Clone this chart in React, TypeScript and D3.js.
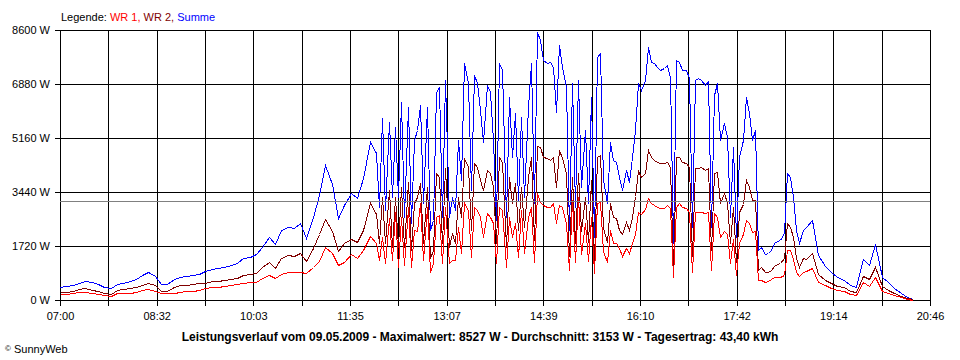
import React from 'react';
import * as d3 from 'd3';

// minutes after 07:00
const times = [
  0, 6, 12, 18, 24, 30, 36, 42, 48, 54,
  60, 66, 72, 78, 84, 90, 96, 102, 108, 114,
  120, 126, 132, 138, 144, 150, 156, 162, 168, 174,
  180, 186, 192, 198, 204, 210, 216, 222, 228, 234,
  240, 246, 252, 258, 264, 270, 276, 282, 288, 294,
  300, 303, 306, 309, 312, 315, 318, 321, 324, 327,
  330, 333, 336, 339, 342, 345, 348, 351, 354, 357,
  360, 363, 366, 369, 372, 375, 378, 381, 384, 387,
  390, 393, 396, 399, 402, 405, 408, 411, 414, 417,
  420, 423, 426, 429, 432, 435, 438, 441, 444, 447,
  450, 453, 456, 459, 462, 465, 468, 471, 474, 477,
  480, 483, 486, 489, 492, 495, 498, 501, 504, 507,
  510, 513, 516, 519, 522, 525, 528, 531, 534, 537,
  540, 543, 546, 549, 552, 555, 558, 561, 564, 567,
  570, 573, 576, 579, 582, 585, 588, 591, 594, 597,
  600, 603, 606, 609, 612, 615, 618, 621, 624, 627,
  630, 633, 636, 639, 642, 645, 648, 651, 654, 657,
  660, 663, 666, 669, 672, 675, 678, 681, 684, 687,
  690, 693, 696, 699, 702, 705, 708, 714, 720, 726,
  732, 738, 744, 750, 756, 762, 768, 774, 780, 786,
  792, 798, 804, 810,
];

const summe = [
  425, 435, 467, 531, 616, 573, 510, 425, 372, 499,
  552, 595, 658, 796, 902, 764, 500, 520, 658, 722,
  764, 796, 828, 934, 977, 1009, 1040, 1115, 1189, 1327,
  1380, 1465, 1677, 1996, 1784, 2230, 2336, 2283, 2442, 1990,
  2650, 3344, 4300, 3695, 2601, 3026, 3419, 3238, 3875, 5043,
  4672, 2973, 5786, 2867, 5680, 3291, 5521, 3291, 6317, 2654,
  6158, 2442, 5096, 5415, 6211, 3079, 6158, 2230, 2548, 6636,
  6795, 2654, 7007, 2654, 3291, 2867, 5096, 3822, 7538, 6901,
  3504, 7166, 6901, 6052, 5043, 6848, 6636, 5096, 2548, 7538,
  7326, 2654, 6476, 4565, 5945, 3185, 5839, 3291, 6158, 7538,
  3079, 8527, 8281, 7644, 7538, 7591, 7432, 5998, 8122, 7432,
  6795, 2230, 6901, 2973, 7007, 3610, 5415, 3079, 6476, 2017,
  7750, 7856, 3822, 3079, 5043, 4459, 4406, 3928, 3504, 4141,
  3769, 4565, 5415, 6901, 6689, 7007, 8069, 7591, 7538, 7411,
  7326, 7379, 7485, 7113, 1805, 7644, 7591, 7326, 7326, 7060,
  2336, 7007, 7060, 7007, 6848, 6986, 2336, 6529, 6901, 5096,
  5627, 5202, 2654, 4884, 2017, 4565, 5096, 6476, 5945, 5096,
  5415, 1593, 1699, 1465, 1486, 1593, 1805, 1890, 1911, 2123,
  4034, 3928, 3291, 2230, 1805, 2230, 2336, 2548, 1433, 1083,
  892, 743, 637, 478, 403, 1295, 1115, 1784, 743, 563,
  372, 220, 110, 30,
];

const wr1 = [
  180, 191, 212, 244, 265, 234, 202, 170, 138, 212,
  223, 234, 265, 308, 340, 297, 220, 212, 234, 265,
  276, 287, 308, 372, 425, 425, 446, 478, 499, 531,
  563, 584, 690, 796, 711, 818, 892, 902, 892, 850,
  1040, 1250, 1699, 1508, 1100, 1200, 1450, 1327, 1593, 2038,
  1800, 1274, 2017, 1168, 2601, 1274, 2813, 1062, 2654, 1115,
  2973, 1062, 2230, 2200, 3079, 1274, 2973, 900, 1168, 2654,
  2700, 1168, 2973, 1168, 1274, 1274, 2336, 1500, 3079, 2867,
  1380, 2973, 2867, 2654, 2017, 2760, 2654, 2442, 1168, 2973,
  2867, 1062, 2654, 2017, 2442, 1380, 2867, 1486, 2654, 2973,
  1200, 3400, 3132, 3026, 2973, 2973, 3079, 2442, 3026, 2973,
  2442, 955, 3185, 1200, 3291, 1450, 2442, 1250, 2650, 850,
  3079, 3132, 1550, 1200, 2230, 1800, 1800, 1650, 1400, 1650,
  1500, 1805, 2100, 2800, 2750, 2900, 3238, 3079, 3026, 2973,
  2920, 2920, 3026, 2920, 743, 2973, 3079, 2973, 2920, 2813,
  900, 2813, 2813, 2813, 2760, 2813, 955, 2760, 2654, 2000,
  2200, 2100, 1168, 1950, 800, 1800, 2100, 2548, 2442, 2176,
  2200, 650, 637, 584, 616, 658, 722, 743, 743, 796,
  1593, 1593, 1300, 900, 750, 900, 934, 1009, 584, 478,
  372, 318, 276, 200, 170, 560, 450, 720, 297, 212,
  159, 90, 45, 12,
];

const wr2 = [
  244, 244, 297, 340, 372, 329, 276, 234, 191, 318,
  350, 393, 403, 478, 531, 488, 300, 300, 425, 478,
  488, 510, 531, 552, 595, 605, 637, 658, 711, 786,
  828, 871, 1062, 1210, 1009, 1327, 1433, 1401, 1508, 1250,
  1650, 2100, 2569, 2198, 1550, 1800, 1950, 1847, 2230, 3079,
  2750, 1805, 3291, 1805, 3504, 1699, 3291, 1699, 3610, 1699,
  3769, 1593, 3079, 3291, 3716, 1805, 3610, 1350, 1593, 4034,
  3928, 1805, 4194, 1699, 2123, 1805, 3291, 2654, 4512, 4247,
  2230, 4353, 4247, 3822, 3504, 4141, 4034, 3610, 1805, 4565,
  4406, 1699, 3928, 3079, 3716, 2230, 3610, 2336, 3928, 4565,
  1900, 4900, 4884, 4565, 4512, 4459, 4565, 3610, 4778, 4512,
  4034, 1400, 3928, 1800, 4034, 2200, 3291, 1850, 3822, 1200,
  4565, 4618, 2300, 1850, 3079, 2650, 2600, 2230, 2100, 2500,
  2230, 2654, 3300, 4100, 3928, 4034, 4778, 4565, 4459, 4406,
  4353, 4353, 4406, 4247, 1062, 4565, 4565, 4406, 4353, 4247,
  1400, 4194, 4194, 4247, 4141, 4194, 1593, 4034, 4088, 3100,
  3400, 3100, 1805, 2950, 1200, 2800, 3050, 3822, 3610, 3185,
  3200, 950, 1050, 900, 900, 950, 1080, 1150, 1170, 1330,
  2442, 2336, 2000, 1330, 1050, 1330, 1295, 1486, 828, 637,
  531, 457, 403, 290, 240, 760, 670, 1060, 446, 318,
  212, 130, 65, 18,
];

const yTicks = [0, 1720, 3440, 5160, 6880, 8600];
const xTickLabels = ['07:00', '08:32', '10:03', '11:35', '13:07', '14:39', '16:10', '17:42', '19:14', '20:46'];
const totalMinutes = 826;
const average = 3153;
const titleText = 'Leistungsverlauf vom 09.05.2009 - Maximalwert: 8527 W - Durchschnitt: 3153 W - Tagesertrag: 43,40 kWh';

const FONT = '"Liberation Sans", Arial, sans-serif';

export default function App() {
  const W = 960, H = 360;
  const left = 60, right = 930, top = 30, bottom = 300;
  const x = d3.scaleLinear().domain([0, totalMinutes]).range([left, right]);
  const y = d3.scaleLinear().domain([0, 8600]).range([bottom, top]);
  const snap = (v: number) => Math.round(v) + 0.5;

  const gridSteps = (xTickLabels.length - 1) * 2;
  const gridX = d3.range(gridSteps + 1).map((i) => (i * totalMinutes) / gridSteps);

  const mk = (vals: number[]) =>
    d3.line<number>()
      .x((_, i) => snap(x(times[i])))
      .y((d) => snap(y(d)))(vals) || '';

  return (
    <svg width={W} height={H} style={{ position: 'absolute', left: 0, top: 0, background: '#fff' }}
      fontFamily={FONT}>
      <rect x={0} y={0} width={W} height={H} fill="#fff" />
      {/* legend */}
      <text x={61} y={21} fontSize={11}>
        <tspan fill="#000">Legende: </tspan>
        <tspan fill="#ff0000">WR 1, </tspan>
        <tspan fill="#800000">WR 2, </tspan>
        <tspan fill="#0000ff">Summe</tspan>
      </text>
      {/* horizontal grid */}
      {yTicks.map((v) => (
        <g key={'y' + v}>
          <line x1={left - 5} x2={right + 1} y1={snap(y(v))} y2={snap(y(v))} stroke="#000" strokeWidth={1} />
          <text x={50} y={Math.round(y(v)) + 4} fontSize={11} textAnchor="end" fill="#000">{v} W</text>
        </g>
      ))}
      {/* vertical grid */}
      {gridX.map((t, i) => (
        <line key={'x' + i} x1={snap(x(t))} x2={snap(x(t))} y1={top} y2={bottom + 6} stroke="#000" strokeWidth={1} />
      ))}
      {xTickLabels.map((lab, i) => (
        <text key={lab} x={x((i * totalMinutes) / (xTickLabels.length - 1)) + 0.5} y={320} fontSize={11} textAnchor="middle" fill="#000">{lab}</text>
      ))}
      {/* series */}
      <path d={mk(summe)} fill="none" stroke="#0000ff" strokeWidth={1} shapeRendering="crispEdges" />
      <path d={mk(wr2)} fill="none" stroke="#800000" strokeWidth={1} shapeRendering="crispEdges" />
      <path d={mk(wr1)} fill="none" stroke="#ff0000" strokeWidth={1} shapeRendering="crispEdges" />
      {/* average line */}
      <line x1={left} x2={right} y1={snap(y(average))} y2={snap(y(average))} stroke="#808080" strokeWidth={1} />
      {/* title */}
      <text x={480} y={341} fontSize={12} fontWeight="bold" textAnchor="middle" fill="#000">{titleText}</text>
      <text x={5} y={353} fontSize={11} fill="#000">
        <tspan fontSize={8} dy={-2}>©</tspan>
        <tspan dy={2}> SunnyWeb</tspan>
      </text>
    </svg>
  );
}
